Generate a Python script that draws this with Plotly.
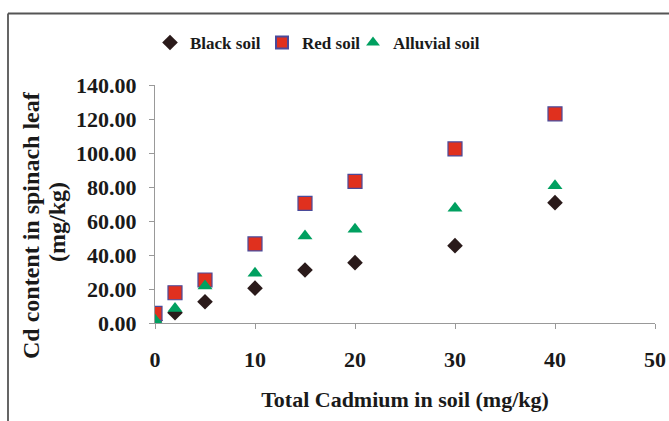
import plotly.graph_objects as go

x_vals = [0, 2, 5, 10, 15, 20, 30, 40]
black_soil = [1.5, 6.0, 12.5, 20.5, 31.2, 35.5, 45.5, 70.8]
red_soil = [5.7, 17.8, 25.3, 46.5, 70.4, 83.3, 102.4, 123.0]
alluvial_soil = [1.8, 8.5, 21.8, 29.3, 51.2, 55.1, 67.5, 80.8]

x_ticks = [0, 10, 20, 30, 40, 50]
y_ticks = [0, 20, 40, 60, 80, 100, 120, 140]
y_tick_text = [f"{v:.2f}" for v in y_ticks]

FONT = "Liberation Serif, Times New Roman, serif"
TXT = "#1a1a1a"

fig = go.Figure()
fig.add_trace(go.Scatter(
    x=x_vals, y=black_soil, mode="markers", name="Black soil", legend="legend",
    marker=dict(symbol="diamond", size=12, color="#2a1a1a", line=dict(width=0)),
))
fig.add_trace(go.Scatter(
    x=x_vals, y=red_soil, mode="markers", name="Red soil", legend="legend2",
    marker=dict(symbol="square", size=14, color="#e0301e",
                line=dict(width=1.2, color="#4a4a9a")),
))
fig.add_trace(go.Scatter(
    x=x_vals, y=alluvial_soil, mode="markers", name="Alluvial soil", legend="legend3",
    marker=dict(symbol="triangle-up", size=13, color="#00a060", line=dict(width=0)),
))

L, R, T, B = 155, 14, 85, 98
W, H = 669, 421
pw, ph = W - L - R, H - T - B

def px2x(p):
    return (p - L) / pw

def px2y(p):
    return (H - B - p) / ph

fig.add_shape(type="line", xref="paper", yref="paper",
              x0=px2x(8), x1=px2x(700), y0=px2y(13.5), y1=px2y(13.5),
              line=dict(color="#555555", width=1.8))
fig.add_shape(type="line", xref="paper", yref="paper",
              x0=px2x(8), x1=px2x(8), y0=px2y(13.5), y1=px2y(450),
              line=dict(color="#555555", width=1.8))

fig.add_annotation(text="<b>Cd content in spinach leaf</b>", textangle=-90,
                   xref="paper", yref="paper", x=px2x(31), y=px2y(225),
                   xanchor="center", yanchor="middle", showarrow=False,
                   font=dict(family=FONT, size=24, color=TXT))
fig.add_annotation(text="<b>(mg/kg)</b>", textangle=-90,
                   xref="paper", yref="paper", x=px2x(57), y=px2y(222),
                   xanchor="center", yanchor="middle", showarrow=False,
                   font=dict(family=FONT, size=24, color=TXT))

def legend_at(px):
    return dict(
        orientation="h", xref="container", yref="container",
        x=px / W, y=1 - 43 / H, xanchor="left", yanchor="middle",
        font=dict(family=FONT, size=17, color=TXT, weight="bold"),
        itemsizing="constant", itemwidth=30,
        bgcolor="rgba(0,0,0,0)",
    )

fig.update_layout(
    width=W, height=H,
    margin=dict(l=L, r=R, t=T, b=B, pad=0),
    paper_bgcolor="white", plot_bgcolor="white",
    font=dict(family=FONT, color=TXT, size=20),
    showlegend=True,
    legend=legend_at(150),
    legend2=legend_at(262),
    legend3=legend_at(353),
    xaxis=dict(
        range=[0, 50], tickvals=x_ticks, ticktext=[str(v) for v in x_ticks],
        showgrid=False, zeroline=False, showline=True, linecolor="#999999", linewidth=1,
        ticks="outside", ticklen=5, tickcolor="#999999",
        tickfont=dict(family=FONT, size=22, color=TXT, weight="bold"),
        ticklabelstandoff=12, automargin=False,
        title=dict(text="Total Cadmium in soil (mg/kg)", standoff=20,
                   font=dict(family=FONT, size=22, color=TXT, weight="bold")),
    ),
    yaxis=dict(
        range=[0, 140], tickvals=y_ticks, ticktext=y_tick_text,
        showgrid=False, zeroline=False, showline=True, linecolor="#999999", linewidth=1,
        ticks="outside", ticklen=5, tickcolor="#999999",
        tickfont=dict(family=FONT, size=22, color=TXT, weight="bold"),
        ticklabelstandoff=8, automargin=False,
    ),
)

fig.write_html("out.html")
